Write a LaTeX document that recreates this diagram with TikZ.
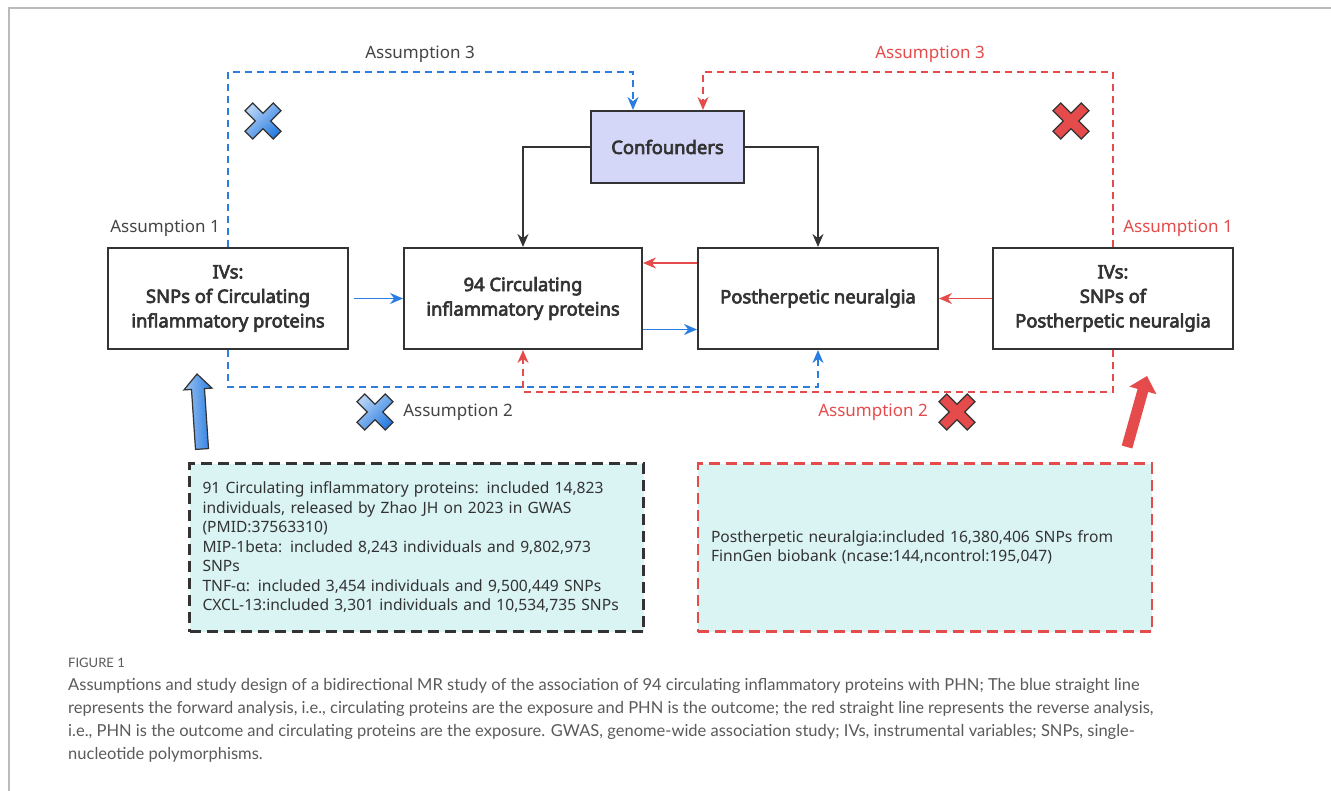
\documentclass[tikz,border=0pt]{standalone}
\usepackage{fontspec}
\setmainfont{Noto Sans}
\newfontfamily\boldsans{Noto Sans}[FakeBold=3.6]
\newfontfamily\capfont{Lato}
\usetikzlibrary{arrows.meta}
\definecolor{bl}{HTML}{2A7DE1}
\definecolor{rd}{HTML}{E54B4B}
\definecolor{dk}{HTML}{333333}
\definecolor{lav}{HTML}{D4D7F7}
\definecolor{cy}{HTML}{DAF3F3}
\definecolor{gtxt}{HTML}{444444}
\definecolor{captxt}{HTML}{5A5A5A}
\definecolor{frame}{HTML}{BBBBBB}
\newcommand{\xcross}[3]{%
  \begin{scope}[shift={(#1,#2)},rotate=45]
    \filldraw[#3, draw=dk, line width=1.3pt]
      (-5.5,-20) -- (5.5,-20) -- (5.5,-5.5) -- (20,-5.5) -- (20,5.5) -- (5.5,5.5)
      -- (5.5,20) -- (-5.5,20) -- (-5.5,5.5) -- (-20,5.5) -- (-20,-5.5) -- (-5.5,-5.5) -- cycle;
  \end{scope}}
\begin{document}
\begin{tikzpicture}[x=1pt,y=-1pt,
  mainbox/.style={draw=dk, line width=2pt, fill=white, align=center, text=dk,
    font=\boldsans\fontsize{18.4}{24.5}\selectfont, inner sep=0pt},
  infobox/.style={line width=2.3pt, dash pattern=on 11pt off 6pt, fill=cy, text=dk,
    font=\fontsize{15.6}{19.5}\selectfont, align=left, inner xsep=13pt, inner ysep=0pt,
    text width=428pt, minimum height=168pt},
  lab/.style={font=\fontsize{17}{20}\selectfont, text=gtxt, inner sep=0pt},
  rlab/.style={font=\fontsize{17}{20}\selectfont, text=rd, inner sep=0pt},
  barr/.style={bl, line width=1.8pt, -{Stealth[length=13pt,width=11pt]}},
  rarr/.style={rd, line width=1.8pt, -{Stealth[length=13pt,width=11pt]}},
  karr/.style={dk, line width=1.8pt, -{Stealth[length=13pt,width=11pt]}},
  bdash/.style={barr, dash pattern=on 7pt off 5pt},
  rdash/.style={rarr, dash pattern=on 7pt off 5pt},
]
\useasboundingbox (0,0) rectangle (1331,791);
\draw[frame, line width=1.2pt] (9,791) -- (9,8) -- (1331,8);

% main boxes
\node[mainbox, minimum width=153pt, minimum height=72pt, fill=lav] (conf) at (667.5,147) {Confounders};
\node[mainbox, minimum width=240pt, minimum height=101pt] (ivl) at (228,298.5) {IVs:\\SNPs of Circulating\\inflammatory proteins};
\node[mainbox, minimum width=238pt, minimum height=101pt] (prot) at (523,298.5) {94 Circulating\\inflammatory proteins};
\node[mainbox, minimum width=240pt, minimum height=101pt] (phn) at (818,298.5) {Postherpetic neuralgia};
\node[mainbox, minimum width=240pt, minimum height=101pt] (ivr) at (1113,298.5) {IVs:\\SNPs of\\Postherpetic neuralgia};

% coordinates for routed connectors
\coordinate (b3) at (633,72);
\coordinate (r3) at (703,72);
\coordinate (b2) at (0,387);
\coordinate (r2) at (0,392);

% confounders
\draw[karr] (conf.west) -| (prot.north);
\draw[karr] (conf.east) -| (phn.north);

% assumption 3
\draw[bdash] (ivl.north) |- (b3) -- (b3 |- conf.north);
\draw[rdash] (ivr.north) |- (r3) -- (r3 |- conf.north);

% direct
\draw[barr] ([xshift=5pt]ivl.east) -- (prot.west);
\draw[rarr] ([yshift=35.5pt]phn.west) -- ([yshift=35.5pt]prot.east);
\draw[barr] ([yshift=-31pt]prot.east) -- ([yshift=-31pt]phn.west);
\draw[rarr] (ivr.west) -- (phn.east);

% assumption 2
\draw[rdash] (ivr.south) |- (prot.south |- r2) -- (prot.south);
\draw[bdash] (ivl.south) |- (phn.south |- b2) -- (phn.south);

% labels
\node[lab] (a3l) at (420,54) {Assumption 3};
\node[rlab] (a3r) at (930,54) {Assumption 3};
\node[lab] (a1l) at (165,228) {Assumption 1};
\node[rlab] (a1r) at (1178,228) {Assumption 1};
\node[lab] (a2l) at (458,412) {Assumption 2};
\node[rlab] (a2r) at (873,412) {Assumption 2};

% crosses
\xcross{263}{121}{left color=bl!35, right color=bl, shading angle=45}
\xcross{375}{412}{left color=bl!35, right color=bl, shading angle=45}
\xcross{1071}{121}{fill=rd}
\xcross{957}{412}{fill=rd}

% big arrows
\filldraw[draw=dk, line width=1.2pt, left color=bl!45, right color=bl]
  (195.5,449.4) -- (191.5,389.4) -- (184,389.9) -- (197,374) -- (212,388.1)
  -- (204.5,388.6) -- (208.5,448.6) -- cycle;
\fill[rd] (1121.7,445.5) -- (1137.6,388.9) -- (1129.4,386.6) -- (1147,376)
  -- (1156.4,394.2) -- (1148.2,391.9) -- (1132.3,448.5) -- cycle;

% info boxes
\node[infobox, draw=dk] (infl) at (416.5,547.5) {91 Circulating inflammatory proteins: included 14,823\\
individuals, released by Zhao JH on 2023 in GWAS\\
(PMID:37563310)\\
MIP-1beta: included 8,243 individuals and 9,802,973\\
SNPs\\
TNF-α: included 3,454 individuals and 9,500,449 SNPs\\
CXCL-13:included 3,301 individuals and 10,534,735 SNPs};
\node[infobox, draw=rd] (infr) at (925,547.5) {Postherpetic neuralgia:included 16,380,406 SNPs from\\
FinnGen biobank (ncase:144,ncontrol:195,047)};

% caption
\node[anchor=west, inner sep=0pt, text=captxt, font=\capfont\fontsize{13}{15}\selectfont] (fig) at (68,663) {FIGURE 1};
\node[anchor=north west, inner sep=0pt, align=left, text=captxt, font=\capfont\fontsize{16.5}{23}\selectfont] (cap) at (68,678) {Assumptions and study design of a bidirectional MR study of the association of 94 circulating inflammatory proteins with PHN; The blue straight line\\
represents the forward analysis, i.e., circulating proteins are the exposure and PHN is the outcome; the red straight line represents the reverse analysis,\\
i.e., PHN is the outcome and circulating proteins are the exposure. GWAS, genome-wide association study; IVs, instrumental variables; SNPs, single-\\
nucleotide polymorphisms.};
\end{tikzpicture}
\end{document}
